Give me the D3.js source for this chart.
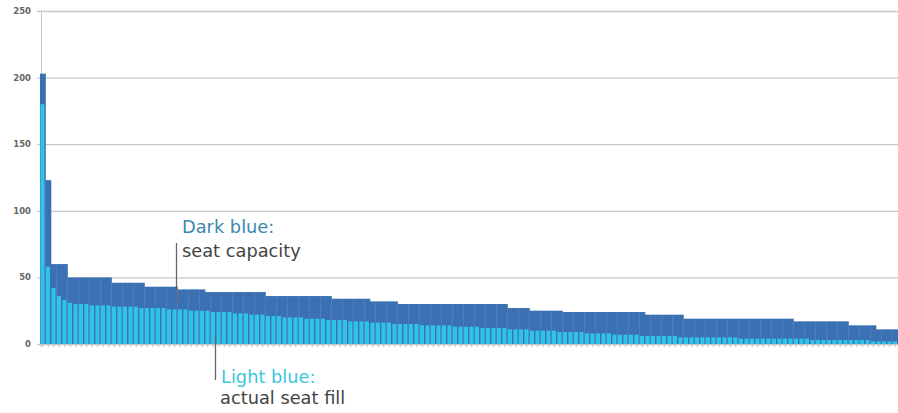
<!DOCTYPE html>
<html><head><meta charset="utf-8">
<script src="https://cdn.jsdelivr.net/npm/d3@7"></script>
<style>
html,body{margin:0;padding:0;background:#fff;}
svg{display:block;}
</style></head>
<body><svg id="chart" width="898" height="413"></svg>
<script>
// Seat capacity (dark blue), one value per route, sorted
const capacity = [
  203,123,60,60,60,
  50,50,50,50,50,50,50,50,
  46,46,46,46,46,46,
  43,43,43,43,43,43,
  41,41,41,41,41,
  39,39,39,39,39,39,39,39,39,39,39,
  36,36,36,36,36,36,36,36,36,36,36,36,
  34,34,34,34,34,34,34,
  32,32,32,32,32,
  30,30,30,30,30,30,30,30,30,30,30,30,30,30,30,30,30,30,30,30,
  27,27,27,27,
  25,25,25,25,25,25,
  24,24,24,24,24,24,24,24,24,24,24,24,24,24,24,
  22,22,22,22,22,22,22,
  19,19,19,19,19,19,19,19,19,19,19,19,19,19,19,19,19,19,19,19,
  17,17,17,17,17,17,17,17,17,17,
  14,14,14,14,14,
  11,11,11,11
];
// Actual seat fill (light blue)
const fill = [
  180,58,42,36,33,
  31,30,30,30,29,29,29,29,
  28,28,28,28,28,27,27,27,27,27,26,26,
  26,26,25,25,25,25,24,24,24,24,23,23,23,22,22,22,
  21,21,21,20,20,20,20,19,19,19,19,18,18,18,18,17,17,17,17,
  16,16,16,16,15,15,15,15,15,14,14,14,14,14,14,13,13,13,13,13,12,12,12,12,12,
  11,11,11,11,10,10,10,10,10,9,9,9,9,9,8,8,8,8,8,7,7,7,7,7,6,
  6,6,6,6,6,6,5,5,5,5,5,5,5,5,5,5,5,4,4,4,4,4,4,4,4,4,4,
  4,4,4,3,3,3,3,3,3,3,3,3,3,3,2,2,2,2,2
];
const yTicks = [0, 50, 100, 150, 200, 250];
const categories = d3.range(capacity.length).map(i => "R" + (i + 1));

const svg = d3.select("#chart");
const x = d3.scaleBand().domain(categories).range([40, 898]).padding(0);
const y = d3.scaleLinear().domain([0, 250]).range([344, 11]);

// gridlines
svg.append("g").selectAll("line").data(yTicks).join("line")
  .attr("x1", 37).attr("x2", 898)
  .attr("y1", d => y(d) + 0.5).attr("y2", d => y(d) + 0.5)
  .attr("stroke", "#c9c9c9").attr("stroke-width", 1.3);

// y axis labels
svg.append("g").selectAll("text").data(yTicks).join("text")
  .attr("x", 31).attr("y", d => y(d)).attr("dy", "0.35em")
  .attr("text-anchor", "end")
  .attr("font-family", "DejaVu Sans, sans-serif")
  .attr("font-size", 8.5).attr("font-weight", "bold")
  .attr("fill", "#666")
  .text(d => d);

// y axis line
svg.append("line").attr("x1", 41.5).attr("x2", 41.5).attr("y1", y(250)).attr("y2", y(0))
  .attr("stroke", "#c9c9c9").attr("stroke-width", 1);

// capacity bars
svg.append("g").selectAll("rect").data(capacity).join("rect")
  .attr("x", (d, i) => x(categories[i]))
  .attr("width", x.bandwidth() + 0.3)
  .attr("y", d => y(d))
  .attr("height", d => y(0) - y(d))
  .attr("fill", "#3b71b3");

// fill bars
svg.append("g").selectAll("rect").data(fill).join("rect")
  .attr("x", (d, i) => x(categories[i]) + 0.4)
  .attr("width", x.bandwidth() - 1.4)
  .attr("y", d => y(d))
  .attr("height", d => y(0) - y(d))
  .attr("fill", "#2fc3e9");

// x axis small ticks
const xAxis = d3.axisBottom(x).tickSize(3).tickFormat("");
const gx = svg.append("g").attr("transform", `translate(0,${y(0)})`).call(xAxis);
gx.select(".domain").attr("stroke", "#c9c9c9");
gx.selectAll(".tick line").attr("stroke", "#bbb");

// annotations
const annot = svg.append("g").attr("font-family", "DejaVu Sans, Verdana, sans-serif").attr("font-size", 17.8);
annot.append("line").attr("x1", 176.5).attr("x2", 176.5).attr("y1", 243).attr("y2", 302)
  .attr("stroke", "#666").attr("stroke-width", 1.3);
annot.append("text").attr("x", 182).attr("y", 233).attr("fill", "#3a88ad").text("Dark blue:");
annot.append("text").attr("x", 182).attr("y", 257).attr("fill", "#444").text("seat capacity");

annot.append("line").attr("x1", 215.5).attr("x2", 215.5).attr("y1", 336).attr("y2", 380)
  .attr("stroke", "#666").attr("stroke-width", 1.3);
annot.append("text").attr("x", 221).attr("y", 383).attr("fill", "#3cc6dc").text("Light blue:");
annot.append("text").attr("x", 220).attr("y", 404).attr("fill", "#444").text("actual seat fill");
</script>
</body></html>
